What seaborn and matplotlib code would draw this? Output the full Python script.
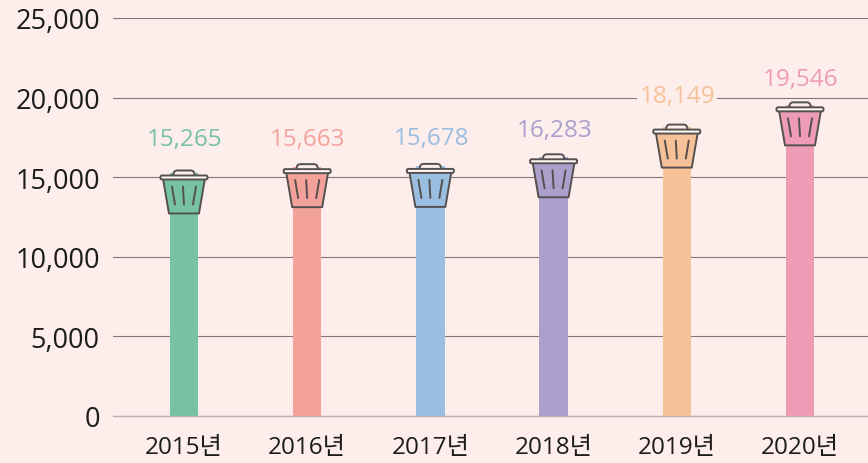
import matplotlib
matplotlib.use("Agg")
import matplotlib.pyplot as plt
import seaborn as sns
from matplotlib.patches import PathPatch, FancyBboxPatch, Polygon
from matplotlib.path import Path
from matplotlib.transforms import Affine2D

years = ["2015년", "2016년", "2017년", "2018년", "2019년", "2020년"]
waste = [15265, 15663, 15678, 16283, 18149, 19546]
colors = ["#76C2A3", "#F3A29A", "#9ABEE0", "#AB9FCB", "#F6C196", "#EE9BB5"]
y_ticks = [0, 5000, 10000, 15000, 20000, 25000]

# label height above the bar value, in px
label_gap = [34, 28, 28, 27, 31, 26]

BG = "#FDEEEC"
INK = "#555050"

sns.set_theme(style="white")
plt.rcParams['font.family'] = ['Open Sans', 'Noto Sans CJK KR', 'DejaVu Sans']

fig = plt.figure(figsize=(8.68, 4.64), dpi=100, facecolor=BG)
ax = fig.add_axes([113 / 868, 47 / 464, 755 / 868, 398 / 464], facecolor=BG)

sns.barplot(x=years, y=waste, hue=years, palette=colors, saturation=1,
            width=0.23, legend=False, ax=ax, zorder=3, linewidth=0)

ax.set_xlim(-0.576, 5.552)
ax.set_ylim(0, 25000)
ax.set_yticks(y_ticks)
ax.set_yticklabels([f"{v:,}" for v in y_ticks])
ax.tick_params(axis="y", length=0, pad=9.5, labelsize=19.5, labelcolor="#1c1c1c")
ax.tick_params(axis="x", length=0, pad=13.5, labelsize=17.5, labelcolor="#1c1c1c")
ax.grid(axis="y", color="#857676", linewidth=0.8, zorder=1)
ax.set_axisbelow(True)
sns.despine(ax=ax, left=True, top=True, right=True)
ax.spines["bottom"].set_color("#BDB0AE")
ax.spines["bottom"].set_linewidth(1.0)


def trash(ax, i, value, color):
    # drawn in px around the top of the bar, y goes up
    px, py = ax.transData.transform((i, value))
    t = Affine2D().translate(px, py + 2.5)
    style = dict(transform=t, edgecolor=INK, linewidth=1.4, zorder=5, clip_on=False)
    knob = FancyBboxPatch((-10.5, -8), 21, 8, boxstyle="round,pad=0,rounding_size=4",
                          facecolor=BG, **style)
    can = Polygon([(-21, -8), (21, -8), (15, -43), (-15, -43)], closed=True,
                  facecolor=color, joinstyle="round", **style)
    lid = FancyBboxPatch((-23.5, -9), 47, 4, boxstyle="round,pad=0,rounding_size=1.5",
                         facecolor="#FFF8F6", **style)
    ax.add_patch(knob)
    ax.add_patch(can)
    ax.add_patch(lid)
    for x0, x1 in [(-12, -9), (-1, 0), (12, 9)]:
        line = Path([(x0, -16), (x1, -34)])
        ax.add_patch(PathPatch(line, fill=False, transform=t, edgecolor=INK,
                               linewidth=1.4, zorder=6, capstyle="round", clip_on=False))


for i, value in enumerate(waste):
    trash(ax, i, value, colors[i])
    ax.annotate(f"{value:,}", xy=(i, value), xytext=(0.5, label_gap[i] * 0.72),
                textcoords="offset points", ha="center", va="center", fontsize=17.5,
                fontweight="medium", color=colors[i], zorder=7,
                bbox=dict(facecolor=BG, edgecolor="none", pad=1.5))

fig.savefig("out.png", dpi=100, facecolor=BG)
